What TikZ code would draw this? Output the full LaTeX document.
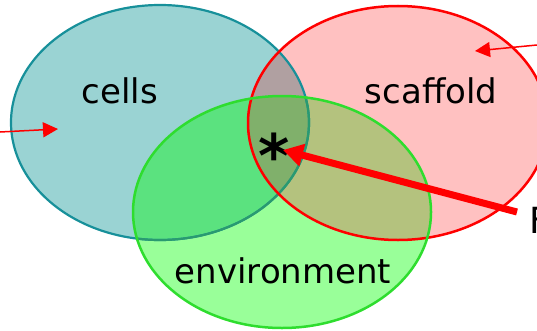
\documentclass[tikz,border=0pt]{standalone}
\usepackage{fontspec}
\setmainfont{DejaVu Sans}
\usetikzlibrary{arrows.meta}
\definecolor{cellsfill}{HTML}{9AD3D3}
\definecolor{scaffill}{HTML}{FFC1C1}
\definecolor{envfill}{HTML}{99FF99}
\definecolor{csfill}{HTML}{B0A0A1}
\definecolor{cefill}{HTML}{5BE27F}
\definecolor{sefill}{HTML}{B4C27E}
\definecolor{allfill}{HTML}{80B06B}
\definecolor{cellsline}{HTML}{17909A}
\definecolor{cellsline2}{HTML}{2A9A70}
\definecolor{envline}{HTML}{2EDD2E}
\definecolor{arrowred}{HTML}{FF0000}
\tikzset{
  label/.style={font=\fontsize{34}{40}\selectfont, text=black, inner sep=0pt, anchor=base},
  thinarrow/.style={draw=arrowred, line width=1.5pt, -{Triangle[length=15pt,width=15pt]}},
  thickarrow/.style={draw=arrowred, line width=7pt, -{Triangle[length=20pt,width=22pt]}},
}
\def\cellsE{(160,207.5) ellipse [x radius=149, y radius=117.5]}
\def\scafE{(398,207) ellipse [x radius=150, y radius=117]}
\def\envE{(282,118) ellipse [x radius=149, y radius=116]}
\begin{document}
\begin{tikzpicture}[x=1pt,y=1pt]
\useasboundingbox (0,0) rectangle (537,330);
% base fills
\fill[cellsfill] \cellsE;
\fill[scaffill] \scafE;
\fill[envfill] \envE;
% overlaps
\begin{scope}
  \clip \cellsE;
  \fill[csfill] \scafE;
  \fill[cefill] \envE;
\end{scope}
\begin{scope}
  \clip \scafE;
  \fill[sefill] \envE;
\end{scope}
\begin{scope}
  \clip \cellsE;
  \clip \scafE;
  \fill[allfill] \envE;
\end{scope}
% borders
\draw[cellsline, line width=2.2pt] \cellsE;
\begin{scope}
  \clip \envE;
  \draw[cellsline2, line width=2.2pt] \cellsE;
\end{scope}
\draw[arrowred, line width=2.5pt] \scafE;
\draw[envline, line width=2.5pt] \envE;
% labels
\node[label] (cells) at (120,227) {cells};
\node[label] (scaffold) at (431,227) {scaffold};
\node[label] (environment) at (283,47) {environment};
\node[font=\fontsize{60}{60}\selectfont\bfseries, inner sep=0pt, anchor=base] (star) at (274,153) {*};
\node[font=\fontsize{36}{40}\selectfont, inner sep=0pt, anchor=base west] (f) at (529,97) {F};
% arrows
\coordinate (leftstart) at (0,198);
\coordinate (lefttip) at (58,201);
\coordinate (rightstart) at (537,285);
\coordinate (righttip) at (475,279);
\coordinate (thickstart) at (517,118);
\coordinate (thicktip) at (283,180);
\draw[thinarrow] (leftstart) -- (lefttip);
\draw[thinarrow] (rightstart) -- (righttip);
\draw[thickarrow] (thickstart) -- (thicktip);
\end{tikzpicture}
\end{document}
